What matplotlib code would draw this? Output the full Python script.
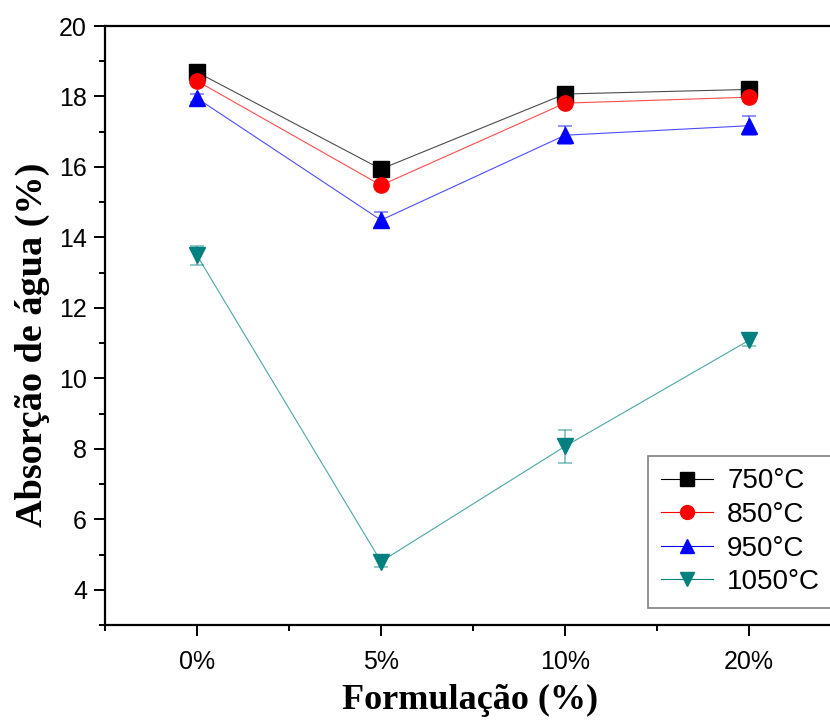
import matplotlib.pyplot as plt
import numpy as np
from matplotlib.ticker import MultipleLocator

# data
formulations = ["0%", "5%", "10%", "20%"]
temps = ["750°C", "850°C", "950°C", "1050°C"]
abs_750 = [18.69, 15.94, 18.07, 18.20]
abs_850 = [18.44, 15.48, 17.81, 17.98]
abs_950 = [17.95, 14.49, 16.90, 17.17]
abs_1050 = [13.49, 4.80, 8.07, 11.08]
err_750 = [0.08, 0.10, 0.08, 0.08]
err_850 = [0.10, 0.10, 0.10, 0.10]
err_950 = [0.12, 0.23, 0.25, 0.27]
err_1050 = [0.28, 0.15, 0.46, 0.15]

colors = ["black", "red", "blue", "#008080"]
markers = ["s", "o", "^", "v"]

plt.rcParams["font.family"] = ["Liberation Sans", "DejaVu Sans"]

fig = plt.figure(figsize=(8.3, 7.2), dpi=100)
ax = fig.add_axes([105 / 830, 95 / 720, 736 / 830, 599 / 720])

x = np.arange(len(formulations))
series = [abs_750, abs_850, abs_950, abs_1050]
errors = [err_750, err_850, err_950, err_1050]
for vals, errs, col, mk, lab in zip(series, errors, colors, markers, temps):
    ax.errorbar(x, vals, yerr=errs, fmt="none", ecolor=col, alpha=0.5,
                elinewidth=1.2, capsize=5, capthick=1.2, zorder=2)
    ax.plot(x, vals, color=col, linewidth=0.8, alpha=0.7, zorder=1)
    ax.plot(x, vals, linestyle="none", marker=mk, markersize=11,
            color=col, zorder=3)
    ax.plot([], [], color=col, linewidth=0.8, alpha=1, marker=mk,
            markersize=10, label=lab)

ax.set_xlim(-0.5, 3.5)
ax.set_ylim(3, 20)
ax.set_xticks(x)
ax.set_xticklabels(formulations)
ax.xaxis.set_minor_locator(MultipleLocator(0.5))
ax.yaxis.set_minor_locator(MultipleLocator(1))
ax.set_yticks(np.arange(4, 21, 2))

for side in ax.spines.values():
    side.set_linewidth(1.6)
ax.tick_params(which="major", direction="out", length=8, width=1.4,
               labelsize=18, pad=5)
ax.tick_params(which="minor", direction="out", length=4.5, width=1.4)
ax.tick_params(axis="x", which="major", pad=10)

serif = ["Liberation Serif", "DejaVu Serif"]
fig.text(470 / 830, 1 - 700 / 720, "Formulação (%)", ha="center", va="center",
         fontsize=26, fontweight="bold", family=serif)
fig.text(32 / 830, 1 - 345 / 720, "Absorção de água (%)", ha="center", va="center",
         rotation=90, fontsize=27.5, fontweight="bold", family=serif)

handles, labels = ax.get_legend_handles_labels()
leg = fig.legend(handles, labels, loc="upper left",
                 bbox_to_anchor=(648 / 830, 1 - 456 / 720),
                 bbox_transform=fig.transFigure, borderaxespad=0,
                 fontsize=20, fancybox=False, framealpha=1, edgecolor="#808080",
                 handlelength=1.9, handletextpad=0.5, labelspacing=0.27,
                 borderpad=0.45)
leg.get_frame().set_linewidth(1.2)

fig.savefig("out.png", dpi=100)
